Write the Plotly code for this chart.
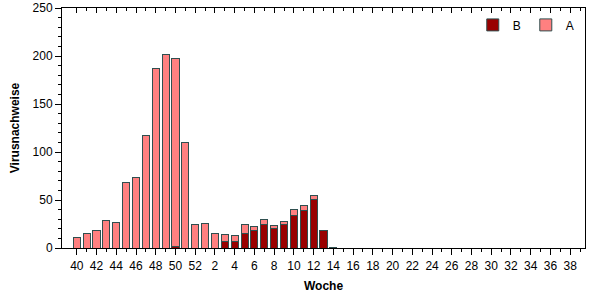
import plotly.graph_objects as go

weeks = list(range(40, 53)) + list(range(1, 40))
series_b = [0, 0, 0, 0, 0, 0, 0, 0, 0, 0, 2, 0, 0, 0,
            0, 7, 7, 15, 18, 25, 20, 25, 34, 39, 51, 18, 1] + [0] * 25
series_a = [11, 15, 18, 29, 27, 68, 73, 117, 187, 202, 195, 110, 25, 26,
            15, 7, 6, 9, 4, 5, 3, 3, 6, 5, 4, 0, 0] + [0] * 25
y_ticks = [0, 50, 100, 150, 200, 250]

x = list(range(len(weeks)))
tickvals = [i for i, w in enumerate(weeks) if w % 2 == 0]
ticktext = [str(weeks[i]) for i in tickvals]
minorvals = [i for i, w in enumerate(weeks) if w % 2 == 1]

edge = dict(color="#2F4F4F", width=1)
fig = go.Figure()
fig.add_trace(go.Bar(x=x, y=series_b, name="B", marker=dict(color="#990000", line=edge), width=0.72))
fig.add_trace(go.Bar(x=x, y=series_a, name="A", marker=dict(color="#FF8080", line=edge), width=0.72))
# invisible trace to draw top axis ticks
fig.add_trace(go.Scatter(x=[x[0]], y=[0], xaxis="x2", mode="markers",
                         marker=dict(opacity=0), showlegend=False, hoverinfo="skip"))

font = dict(family="Liberation Sans, Arial, sans-serif", size=12, color="#000000")
fig.update_layout(
    barmode="stack",
    width=602, height=300,
    margin=dict(l=62, r=17, t=8, b=52, autoexpand=False),
    paper_bgcolor="white", plot_bgcolor="white",
    font=font,
    legend=dict(orientation="h", x=0.99, xanchor="right", y=0.99, yanchor="top",
                bgcolor="rgba(0,0,0,0)", font=dict(size=12), itemwidth=30,
                traceorder="normal"),
    xaxis=dict(range=[-1.5, 51.5], tickmode="array", tickvals=tickvals, ticktext=ticktext,
               ticks="outside", ticklen=6, tickcolor="black", tickwidth=1,
               showline=True, linecolor="black", linewidth=1, mirror=True,
               showgrid=False, zeroline=False, ticklabelstandoff=1, automargin=False,
               minor=dict(tickmode="array", tickvals=minorvals, ticks="outside", ticklen=3,
                          tickcolor="black", showgrid=False),
               title=dict(text="<b>Woche</b>", standoff=9, font=dict(size=12))),
    xaxis2=dict(range=[-1.5, 51.5], overlaying="x", side="top", tickmode="array",
                tickvals=tickvals, showticklabels=False, ticks="inside", ticklen=5,
                tickcolor="black", showline=False, showgrid=False, zeroline=False,
                automargin=False,
                minor=dict(tickmode="array", tickvals=minorvals, ticks="inside", ticklen=3,
                           tickcolor="black", showgrid=False)),
    yaxis=dict(range=[0, 250], tickmode="array", tickvals=y_ticks,
               ticks="outside", ticklen=6, tickcolor="black",
               showline=True, linecolor="black", linewidth=1, mirror=True,
               showgrid=False, zeroline=False, automargin=False,
               minor=dict(dtick=10, tick0=0, ticks="outside", ticklen=3,
                          tickcolor="black", showgrid=False),
               title=dict(text="<b>Virusnachweise</b>", standoff=10, font=dict(size=12))),
)
fig.write_html("out.html")
